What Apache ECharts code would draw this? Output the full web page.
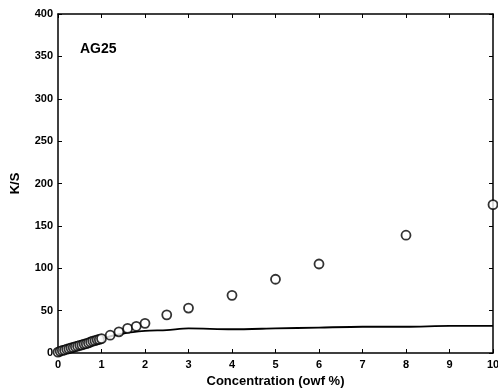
<!DOCTYPE html>
<html>
<head>
<meta charset="utf-8">
<script src="https://cdn.jsdelivr.net/npm/echarts@6/dist/echarts.min.js"></script>
<style>
  html, body { margin: 0; padding: 0; background: #fff; }
  #chart { width: 498px; height: 391px; }
</style>
</head>
<body>
<div id="chart"></div>
<script>
// measured K/S (circles)
const concX = [0, 0.05, 0.1, 0.15, 0.2, 0.25, 0.3, 0.35, 0.4, 0.45, 0.5, 0.55, 0.6, 0.65, 0.7, 0.75, 0.8, 0.85, 0.9, 0.95,
  1.0, 1.2, 1.4, 1.6, 1.8, 2.0, 2.5, 3, 4, 5, 6, 8, 10]
const ksMeasured = [1, 2, 3, 3.5, 4.5, 5, 6, 6.5, 7.5, 8, 9, 9.5, 10.5, 11, 12, 13, 14, 14.5, 15.5, 16,
  17, 21, 25, 29, 31.5, 35, 45, 53, 68, 87, 105, 139, 175]
// model curve (solid line)
const lineX = [0, 0.5, 1, 1.5, 2, 2.5, 3, 4, 5, 6, 7, 8, 9, 10]
const lineY = [0, 9, 17, 23, 26, 27, 29, 28, 29, 30, 31, 31, 32, 32]
const xTicks = [0, 1, 2, 3, 4, 5, 6, 7, 8, 9, 10]
const yTicks = [0, 50, 100, 150, 200, 250, 300, 350, 400]

const chart = echarts.init(document.getElementById('chart'))
const font = 'Liberation Sans, Arial, sans-serif'
const axisLine = { show: true, onZero: false, lineStyle: { color: '#000', width: 1.5 } }
const axisTick = { show: true, inside: true, length: 4, lineStyle: { color: '#000', width: 1 } }

const option = {
  backgroundColor: '#fff',
  animation: false,
  grid: { left: 58, right: 5, top: 14, bottom: 38, outerBoundsMode: 'none', containLabel: false },
  title: {
    text: 'AG25', left: 75, top: 37,
    textStyle: { fontFamily: font, fontWeight: 'bold', fontSize: 14, color: '#000' }
  },
  xAxis: [
    {
      type: 'value', min: xTicks[0], max: xTicks[xTicks.length - 1], interval: 1,
      axisLine, axisTick, splitLine: { show: false },
      axisLabel: { color: '#000', fontFamily: font, fontWeight: 'bold', fontSize: 11, margin: 6 },
      name: 'Concentration (owf %)', nameLocation: 'middle', nameGap: 22,
      nameTextStyle: { color: '#000', fontFamily: font, fontWeight: 'bold', fontSize: 13 }
    },
    {
      type: 'value', position: 'top', min: 0, max: 10, interval: 1,
      axisLine, axisTick, axisLabel: { show: false }, splitLine: { show: false }
    }
  ],
  yAxis: [
    {
      type: 'value', min: yTicks[0], max: yTicks[yTicks.length - 1], interval: 50,
      axisLine, axisTick, splitLine: { show: false },
      axisLabel: { color: '#000', fontFamily: font, fontWeight: 'bold', fontSize: 11, margin: 5 },
      name: 'K/S', nameLocation: 'middle', nameGap: 36,
      nameTextStyle: { color: '#000', fontFamily: font, fontWeight: 'bold', fontSize: 13 }
    },
    {
      type: 'value', position: 'right', min: 0, max: 400, interval: 50,
      axisLine, axisTick, axisLabel: { show: false }, splitLine: { show: false }
    }
  ],
  series: [
    {
      type: 'line',
      data: lineX.map((x, i) => [x, lineY[i]]),
      showSymbol: false,
      smooth: 0.3,
      lineStyle: { color: '#000', width: 1.8 },
      z: 2
    },
    {
      type: 'scatter',
      data: concX.map((x, i) => [x, ksMeasured[i]]),
      symbol: 'circle',
      symbolSize: 9,
      itemStyle: { color: '#fff', borderColor: '#000', borderWidth: 1.8 },
      z: 3
    }
  ]
}

chart.setOption(option)
</script>
</body>
</html>
